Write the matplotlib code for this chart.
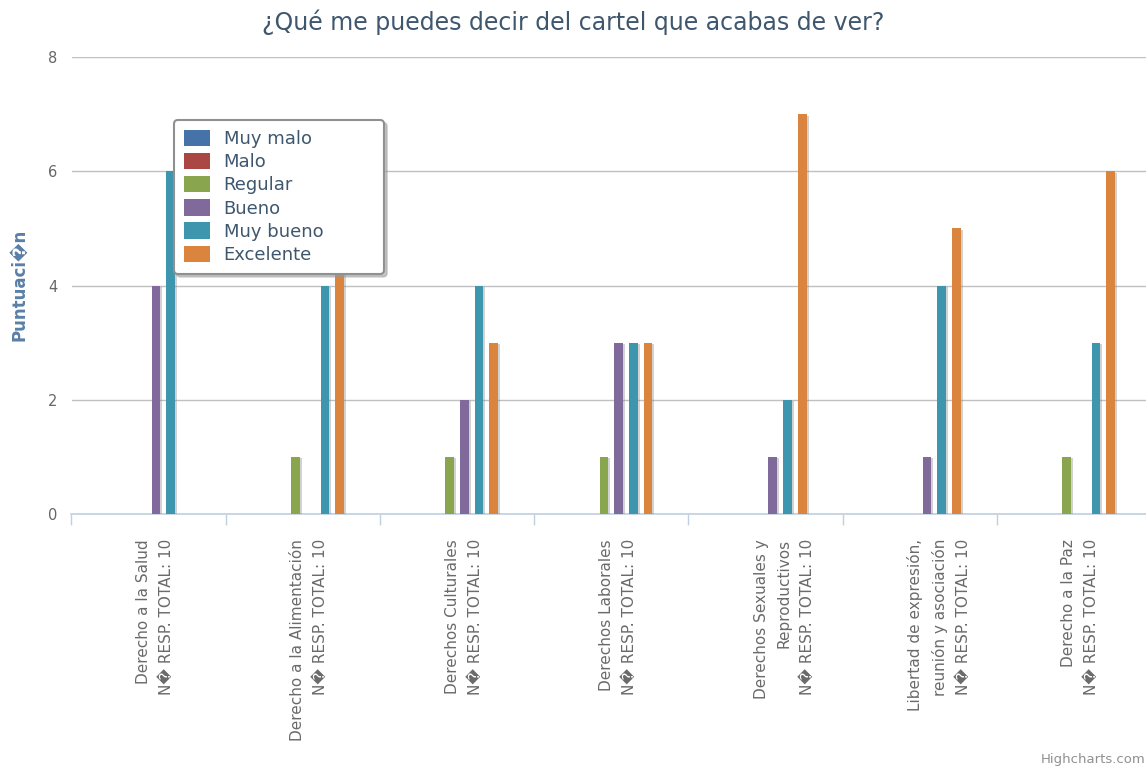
import numpy as np
import matplotlib
matplotlib.use("Agg")
import matplotlib.pyplot as plt
import matplotlib.patheffects as pe
from matplotlib.patches import Patch
from matplotlib.transforms import offset_copy

# ---- data ----
categories = [
    "Derecho a la Salud\nN\ufffd RESP. TOTAL: 10",
    "Derecho a la Alimentación\nN\ufffd RESP. TOTAL: 10",
    "Derechos Culturales\nN\ufffd RESP. TOTAL: 10",
    "Derechos Laborales\nN\ufffd RESP. TOTAL: 10",
    "Derechos Sexuales y\nReproductivos\nN\ufffd RESP. TOTAL: 10",
    "Libertad de expresión,\nreunión y asociación\nN\ufffd RESP. TOTAL: 10",
    "Derecho a la Paz\nN\ufffd RESP. TOTAL: 10",
]
series_names = ["Muy malo", "Malo", "Regular", "Bueno", "Muy bueno", "Excelente"]
muy_malo = [0, 0, 0, 0, 0, 0, 0]
malo = [0, 0, 0, 0, 0, 0, 0]
regular = [0, 1, 1, 1, 0, 0, 1]
bueno = [4, 0, 2, 3, 1, 1, 0]
muy_bueno = [6, 4, 4, 3, 2, 4, 3]
excelente = [0, 5, 3, 3, 7, 5, 6]
yticks = [0, 2, 4, 6, 8]

colors = ["#4572A7", "#AA4643", "#89A54E", "#80699B", "#3D96AE", "#DB843D"]
series = [muy_malo, malo, regular, bueno, muy_bueno, excelente]

W, H = 1146, 769
fig = plt.figure(figsize=(W / 100, H / 100), dpi=100)
# plot area in pixels: x 71.5 -> 1151, y 57 -> 514
ax = fig.add_axes([71.5 / W, 1 - 514 / H, (1151 - 71.5) / W, (514 - 57) / H])

x = np.arange(len(categories))
slot = 0.0953
bar_w = 0.056
shadow = [pe.SimplePatchShadow(offset=(1.5, -1), shadow_rgbFace="#808080", alpha=0.35),
          pe.Normal()]
for j, (vals, col) in enumerate(zip(series, colors)):
    vals = np.asarray(vals, dtype=float)
    keep = vals > 0
    pos = x + (j - (len(series) - 1) / 2) * slot
    bars = ax.bar(pos[keep], vals[keep], width=bar_w, color=col, zorder=3,
                  linewidth=0)
    for b in bars:
        b.set_path_effects(shadow)

ax.set_xlim(-0.5, len(categories) - 0.5)
ax.set_ylim(0, 8)
ax.set_yticks(yticks)
ax.yaxis.grid(True, color="#C0C0C0", linewidth=1)
ax.set_axisbelow(True)
ax.tick_params(axis="y", length=0, pad=10, labelsize=10.5, labelcolor="#666666")

# category boundary ticks, labels drawn separately
ax.set_xticks(np.arange(len(categories) + 1) - 0.5)
ax.set_xticklabels([])
ax.tick_params(axis="x", length=8, width=1, color="#C0D0E0")

for side in ["top", "right", "left"]:
    ax.spines[side].set_visible(False)
ax.spines["bottom"].set_color("#C0D0E0")
ax.spines["bottom"].set_linewidth(1.2)

trans = ax.get_xaxis_transform()
for i, lab in enumerate(categories):
    n = lab.count("\n") + 1
    dx = -6 + (n - 1) * 12.5
    t = offset_copy(trans, fig=fig, x=dx, y=-25, units="dots")
    ax.text(i, 0, lab, transform=t, rotation=90, ha="center", va="top",
            multialignment="right", fontsize=11, color="#6a6a6a",
            linespacing=1.65)

fig.text(0.5, 1 - 22 / H, "¿Qué me puedes decir del cartel que acabas de ver?",
         ha="center", va="center", fontsize=17, color="#3E576F")
fig.text(20 / W, 1 - 285 / H, "Puntuaci\ufffdn", rotation=90, ha="center",
         va="center", fontsize=12, fontweight="bold", color="#5A7FA6")
fig.text(1145 / W, 1 - 760 / H, "Highcharts.com", ha="right", va="center",
         fontsize=9.5, color="#909090")

handles = [Patch(facecolor=c, edgecolor="none", label=s)
           for c, s in zip(colors, series_names)]
leg = ax.legend(handles=handles, loc="upper left", mode="expand",
                bbox_to_anchor=(174 / W, 1 - 275 / H, 210 / W, 155 / H),
                bbox_transform=fig.transFigure,
                borderaxespad=0, fontsize=13, handlelength=1.45, handleheight=1.0,
                handletextpad=0.75, labelspacing=0.27, borderpad=0.55,
                frameon=True, fancybox=True, framealpha=1,
                shadow={"ox": 2, "oy": -2, "color": "#999999", "alpha": 0.5})
leg.get_frame().set_edgecolor("#909090")
leg.get_frame().set_linewidth(1.5)
for txt in leg.get_texts():
    txt.set_color("#3E576F")
leg.set_zorder(10)

fig.savefig("out.png", dpi=100)
